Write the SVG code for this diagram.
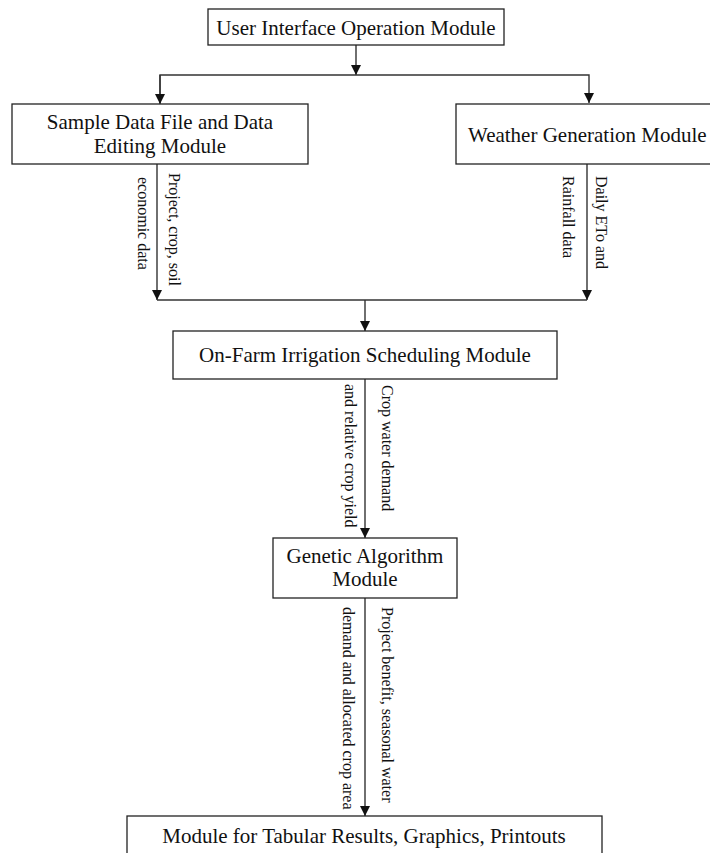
<svg xmlns="http://www.w3.org/2000/svg" width="710" height="853" viewBox="0 0 710 853">
<style>
.box{fill:#fff;stroke:#222;stroke-width:1.3}
.t{font-family:'Liberation Serif','DejaVu Serif',serif;font-size:21px;fill:#111;text-anchor:middle}
.l{font-family:'Liberation Serif','DejaVu Serif',serif;font-size:16px;fill:#111}
.c{fill:none;stroke:#333;stroke-width:1.4}
</style>
<defs>
<marker id="ah" viewBox="0 0 10 10" refX="10" refY="5" markerWidth="10" markerHeight="10" markerUnits="userSpaceOnUse" orient="auto">
<path d="M0,0 L10,5 L0,10 z" fill="#111"/>
</marker>
</defs>
<rect width="710" height="853" fill="#fff"/>
<g id="connectors">
<line class="c" x1="356" y1="45" x2="356" y2="75" marker-end="url(#ah)"/>
<polyline class="c" points="160,103 160,75 589,75 589,103" marker-end="url(#ah)"/>
<line class="c" x1="160" y1="75" x2="160" y2="104" marker-end="url(#ah)"/>
<line class="c" x1="157" y1="164" x2="157" y2="300" marker-end="url(#ah)"/>
<line class="c" x1="587" y1="164" x2="587" y2="300" marker-end="url(#ah)"/>
<line class="c" x1="157" y1="300" x2="587" y2="300"/>
<line class="c" x1="365" y1="300" x2="365" y2="331" marker-end="url(#ah)"/>
<line class="c" x1="365" y1="379" x2="365" y2="538" marker-end="url(#ah)"/>
<line class="c" x1="365" y1="598" x2="365" y2="816" marker-end="url(#ah)"/>
<text class="l" font-family="Liberation Serif" transform="translate(169,173) rotate(90)">Project, crop, soil</text>
<text class="l" font-family="Liberation Serif" transform="translate(138,177) rotate(90)">economic data</text>
<text class="l" font-family="Liberation Serif" transform="translate(596,176) rotate(90)">Daily ETo and</text>
<text class="l" font-family="Liberation Serif" transform="translate(563,176) rotate(90)">Rainfall data</text>
<text class="l" font-family="Liberation Serif" transform="translate(382,385) rotate(90)">Crop water demand</text>
<text class="l" font-family="Liberation Serif" transform="translate(345,384) rotate(90)">and relative crop yield</text>
<text class="l" font-family="Liberation Serif" transform="translate(382,607) rotate(90)">Project benefit, seasonal water</text>
<text class="l" font-family="Liberation Serif" transform="translate(343,607) rotate(90)">demand and allocated crop area</text>
</g>
<g id="ui">
<rect class="box" x="208" y="9" width="296" height="36"/>
<text class="t" font-family="Liberation Serif" x="356" y="35">User Interface Operation Module</text>
</g>
<g id="sample">
<rect class="box" x="12" y="104" width="296" height="60"/>
<text class="t" font-family="Liberation Serif" x="160" y="129">Sample Data File and Data</text>
<text class="t" font-family="Liberation Serif" x="160" y="153">Editing Module</text>
</g>
<g id="weather">
<rect class="box" x="456" y="104" width="270" height="60"/>
<text class="t" font-family="Liberation Serif" x="468" y="142" style="text-anchor:start">Weather Generation Module</text>
</g>
<g id="onfarm">
<rect class="box" x="173" y="331" width="384" height="48"/>
<text class="t" font-family="Liberation Serif" x="365" y="362">On-Farm Irrigation Scheduling Module</text>
</g>
<g id="genetic">
<rect class="box" x="273" y="538" width="184" height="60"/>
<text class="t" font-family="Liberation Serif" x="365" y="563">Genetic Algorithm</text>
<text class="t" font-family="Liberation Serif" x="365" y="586">Module</text>
</g>
<g id="results">
<rect class="box" x="127" y="816" width="475" height="60"/>
<text class="t" font-family="Liberation Serif" x="364" y="843">Module for Tabular Results, Graphics, Printouts</text>
</g>
</svg>
